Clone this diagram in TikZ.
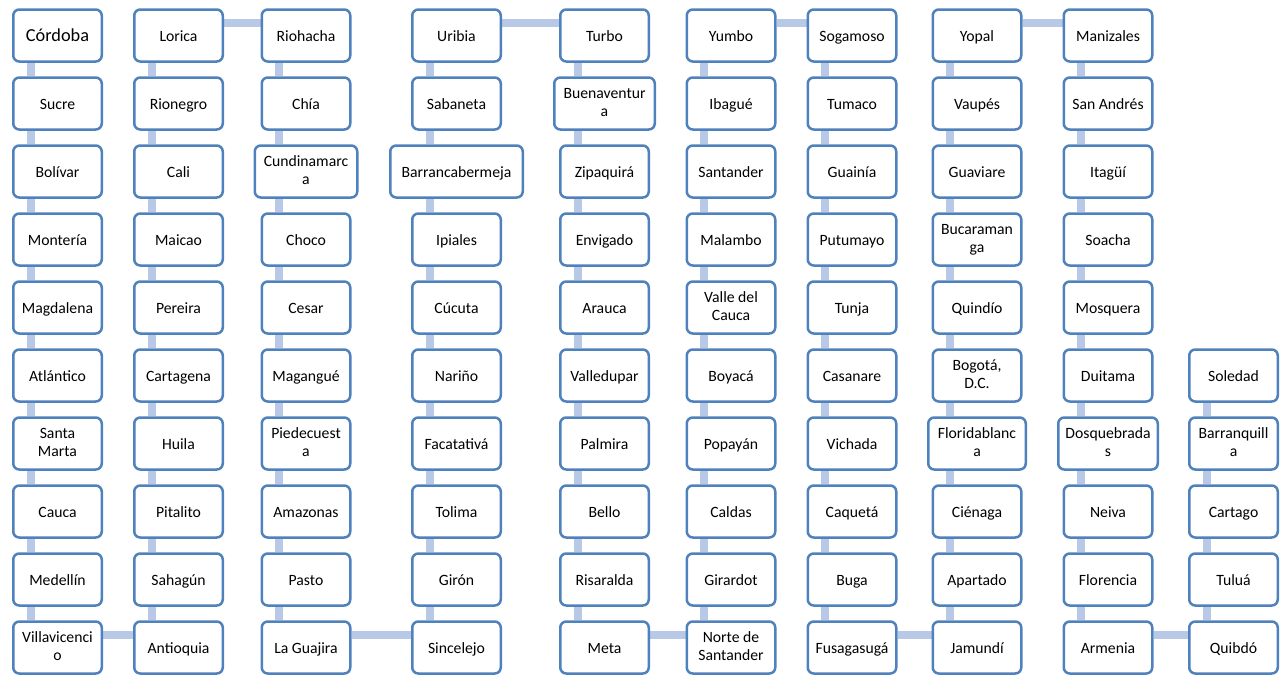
\documentclass[tikz,border=0pt]{standalone}
\usepackage{fontspec}
\setmainfont{Carlito}
\usetikzlibrary{backgrounds}
\definecolor{bord}{RGB}{79,129,189}
\definecolor{conn}{RGB}{183,201,230}
\newcommand\boxstrut{\rule[-2.5pt]{0pt}{16.6pt}}
\begin{document}
\begin{tikzpicture}[x=1pt,y=-1pt,
  box/.style={draw=bord, line width=2.5pt, rounded corners=6pt, fill=white,
    minimum width=88.5pt, minimum height=52pt, inner sep=2pt, align=center,
    font=\fontsize{15.7}{17.7}\selectfont, text=black,
    execute at begin node=\boxstrut, execute at end node=\boxstrut},
  link/.style={draw=conn, line width=8pt},
  s1-1/.style={font=\fontsize{18.3}{20}\selectfont},
  s3-3/.style={minimum width=102.5pt},
  s4-3/.style={minimum width=132.5pt},
  s5-2/.style={minimum width=100.5pt},
  s8-7/.style={minimum width=97.5pt},
  s9-7/.style={minimum width=99.5pt}]
\useasboundingbox (0,0) rectangle (1281,675);
% column 1
\foreach \t [count=\r] in {Córdoba,Sucre,Bolívar,Montería,Magdalena,Atlántico,{Santa\\Marta},Cauca,Medellín,{Villavicenci\\o}}
  \node[box,s1-\r/.try] (n1-\r) at (57.5,{35.5+68*(\r-1)}) {\t};
% column 2
\foreach \t [count=\r] in {Lorica,Rionegro,Cali,Maicao,Pereira,Cartagena,Huila,Pitalito,Sahagún,Antioquia}
  \node[box,s2-\r/.try] (n2-\r) at (178.5,{35.5+68*(\r-1)}) {\t};
% column 3
\foreach \t [count=\r] in {Riohacha,Chía,{Cundinamarc\\a},Choco,Cesar,Magangué,{Piedecuest\\a},Amazonas,Pasto,La Guajira}
  \node[box,s3-\r/.try] (n3-\r) at (306,{35.5+68*(\r-1)}) {\t};
% column 4
\foreach \t [count=\r] in {Uribia,Sabaneta,Barrancabermeja,Ipiales,Cúcuta,Nariño,Facatativá,Tolima,Girón,Sincelejo}
  \node[box,s4-\r/.try] (n4-\r) at (456.5,{35.5+68*(\r-1)}) {\t};
% column 5
\foreach \t [count=\r] in {Turbo,{Buenaventur\\a},Zipaquirá,Envigado,Arauca,Valledupar,Palmira,Bello,Risaralda,Meta}
  \node[box,s5-\r/.try] (n5-\r) at (604.5,{35.5+68*(\r-1)}) {\t};
% column 6
\foreach \t [count=\r] in {Yumbo,Ibagué,Santander,Malambo,{Valle del\\Cauca},Boyacá,Popayán,Caldas,Girardot,{Norte de\\Santander}}
  \node[box,s6-\r/.try] (n6-\r) at (731,{35.5+68*(\r-1)}) {\t};
% column 7
\foreach \t [count=\r] in {Sogamoso,Tumaco,Guainía,Putumayo,Tunja,Casanare,Vichada,Caquetá,Buga,Fusagasugá}
  \node[box,s7-\r/.try] (n7-\r) at (852,{35.5+68*(\r-1)}) {\t};
% column 8
\foreach \t [count=\r] in {Yopal,Vaupés,Guaviare,{Bucaraman\\ga},Quindío,{Bogotá,\\D.C.},{Floridablanc\\a},Ciénaga,Apartado,Jamundí}
  \node[box,s8-\r/.try] (n8-\r) at (977,{35.5+68*(\r-1)}) {\t};
% column 9
\foreach \t [count=\r] in {Manizales,San Andrés,Itagüí,Soacha,Mosquera,Duitama,{Dosquebrada\\s},Neiva,Florencia,Armenia}
  \node[box,s9-\r/.try] (n9-\r) at (1108,{35.5+68*(\r-1)}) {\t};
% column 10
\foreach \t [count=\r from 6] in {Soledad,{Barranquill\\a},Cartago,Tuluá,Quibdó}
  \node[box,s10-\r/.try] (n10-\r) at (1233.5,{35.5+68*(\r-1)}) {\t};
% connectors
\begin{scope}[on background layer]
  \foreach \c in {1,...,9}
    \foreach \r [count=\s from 2] in {1,...,9}
      \draw[link] ([xshift=-27pt]n\c-\r.south) -- ([xshift=-27pt]n\c-\s.north);
  \foreach \r [count=\s from 7] in {6,7,8,9}
    \draw[link] ([xshift=-27pt]n10-\r.south) -- ([xshift=-27pt]n10-\s.north);
  \foreach \a/\b in {2/3,4/5,6/7,8/9}
    \draw[link] ([yshift=13pt]n\a-1.east) -- ([yshift=13pt]n\b-1.west);
  \foreach \a/\b in {1/2,3/4,5/6,7/8,9/10}
    \draw[link] ([yshift=13pt]n\a-10.east) -- ([yshift=13pt]n\b-10.west);
\end{scope}
\end{tikzpicture}
\end{document}
